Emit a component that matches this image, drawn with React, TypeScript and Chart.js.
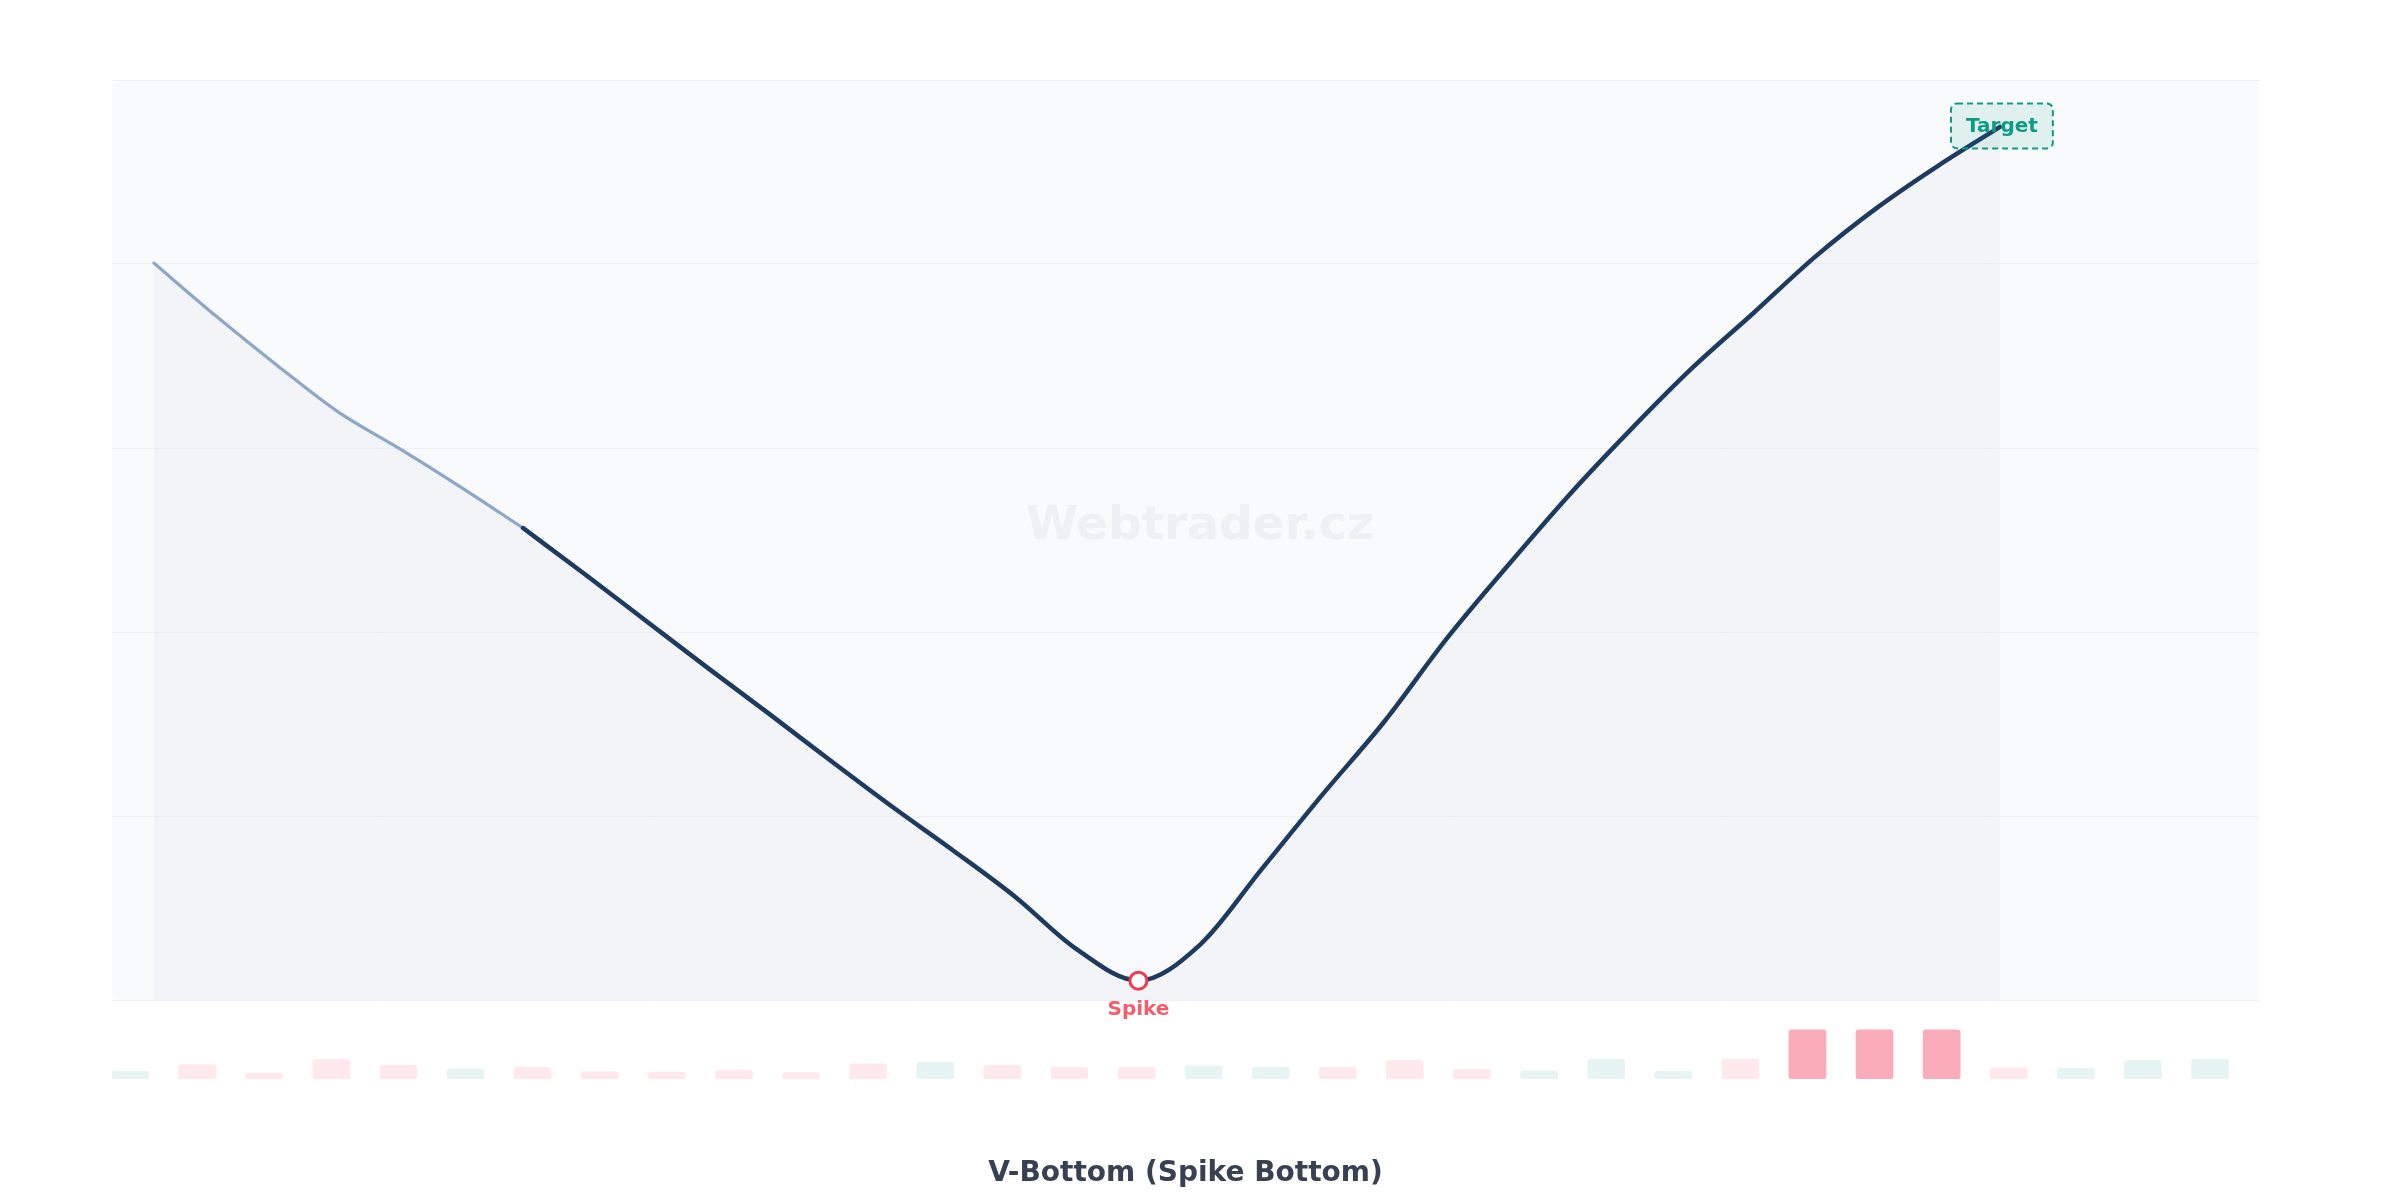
import { useEffect, useRef } from 'react';
import { Chart, registerables } from 'chart.js';

Chart.register(...registerables);

// Price path (index scale 0..100) sampled once per session
const prices = [
  80.1, 74.4, 69.0, 63.9, 59.9, 55.7, 51.3, 46.3, 41.2, 36.1, 31.1,
  26.0, 21.0, 16.2, 11.2, 5.5, 2.1, 6.0, 14.2, 22.4, 30.3, 39.2,
  47.2, 54.9, 62.0, 68.7, 74.7, 80.8, 86.1, 90.7, 94.9,
];
// Session where the prior trend ends and the pattern begins
const patternStart = 6;

// Volume per bar and its direction
const volumes = [
  16, 29, 12, 40, 28, 20, 24, 15, 14, 18, 13, 31, 34, 28, 24, 24,
  27, 24, 24, 38, 20, 17, 40, 16, 41, 100, 100, 100, 23, 22, 38, 40,
];
const volumeDirections = [
  'up', 'down', 'down', 'down', 'down', 'up', 'down', 'down', 'down', 'down', 'down',
  'down', 'up', 'down', 'down', 'down', 'up', 'up', 'down', 'down', 'down', 'up',
  'up', 'up', 'down', 'down', 'down', 'down', 'down', 'up', 'up', 'up',
];
const volumeHighlights = [25, 26, 27];

const titleText = 'V-Bottom (Spike Bottom)';
const spikeLabel = 'Spike';
const targetLabel = 'Target';
const watermarkText = 'Webtrader.cz';

const FONT = '"DejaVu Sans", "Noto Sans", sans-serif';

const spikeIndex = prices.indexOf(Math.min(...prices));

const plotBackground = {
  id: 'plotBackground',
  beforeDraw(chart: any) {
    const { ctx, chartArea } = chart;
    const y = chart.scales.y;
    ctx.save();
    ctx.fillStyle = '#f8fafc';
    ctx.beginPath();
    ctx.roundRect(chartArea.left, y.top, chartArea.right - chartArea.left, y.bottom - y.top, 6);
    ctx.fill();
    ctx.restore();
  },
};

const watermark = {
  id: 'watermark',
  beforeDatasetsDraw(chart: any) {
    const { ctx } = chart;
    const y = chart.scales.y;
    ctx.save();
    ctx.font = `bold 47px ${FONT}`;
    ctx.fillStyle = '#eef0f3';
    ctx.textAlign = 'center';
    ctx.textBaseline = 'middle';
    ctx.fillText(watermarkText, chart.width / 2, y.top + (y.bottom - y.top) * 0.486);
    ctx.restore();
  },
};

const annotations = {
  id: 'annotations',
  afterDatasetsDraw(chart: any) {
    const { ctx } = chart;
    const meta = chart.getDatasetMeta(0);
    const spike = meta.data[spikeIndex - patternStart];
    const last = meta.data[meta.data.length - 1];
    ctx.save();

    // Spike label under the low
    ctx.font = `bold 20px ${FONT}`;
    ctx.textAlign = 'center';
    ctx.textBaseline = 'middle';
    ctx.fillStyle = '#f45d6c';
    ctx.fillText(spikeLabel, spike.x, spike.y + 29);

    // Target tag at the final price
    const tw = ctx.measureText(targetLabel).width;
    const bw = tw + 30;
    const bh = 45;
    const bx = last.x + 2 - bw / 2;
    const by = last.y - 1 - bh / 2;
    ctx.beginPath();
    ctx.roundRect(bx, by, bw, bh, 6);
    ctx.fillStyle = 'rgba(13, 155, 131, 0.1)';
    ctx.fill();
    ctx.setLineDash([6, 4]);
    ctx.lineWidth = 2;
    ctx.strokeStyle = '#0f9b83';
    ctx.stroke();
    ctx.setLineDash([]);
    ctx.fillStyle = '#0f9b83';
    ctx.fillText(targetLabel, bx + bw / 2, by + bh / 2 + 1);
    ctx.restore();
  },
};

export default function App() {
  const canvasRef = useRef<HTMLCanvasElement | null>(null);

  useEffect(() => {
    if (!canvasRef.current) return;
    const pricePoints = prices.map((p, i) => ({ x: i, y: p }));
    const volumePoints = volumes.map((v, i) => ({ x: i, y: v }));
    const volumeColors = volumes.map((_, i) =>
      volumeHighlights.includes(i)
        ? 'rgba(244, 63, 94, 0.43)'
        : volumeDirections[i] === 'up'
          ? 'rgba(13, 148, 136, 0.1)'
          : 'rgba(244, 63, 94, 0.11)'
    );

    const chart = new Chart(canvasRef.current, {
      type: 'line',
      data: {
        datasets: [
          {
            type: 'line',
            label: 'Pattern',
            data: pricePoints.slice(patternStart),
            xAxisID: 'x',
            yAxisID: 'y',
            borderColor: '#1e3a5f',
            borderWidth: 4.5,
            borderCapStyle: 'round',
            borderJoinStyle: 'round',
            cubicInterpolationMode: 'monotone',
            fill: false,
            pointRadius: (c: any) => (c.dataIndex === spikeIndex - patternStart ? 8.5 : 0),
            pointBackgroundColor: '#ffffff',
            pointBorderColor: '#ef3b4f',
            pointBorderWidth: 3,
            order: 1,
          },
          {
            type: 'line',
            label: 'Prior trend',
            data: pricePoints.slice(0, patternStart + 1),
            xAxisID: 'x',
            yAxisID: 'y',
            borderColor: '#8fa7c6',
            borderWidth: 3.2,
            borderCapStyle: 'round',
            borderJoinStyle: 'round',
            cubicInterpolationMode: 'monotone',
            fill: false,
            pointRadius: 0,
            order: 2,
          },
          {
            type: 'line',
            label: 'Area',
            data: pricePoints,
            xAxisID: 'x',
            yAxisID: 'y',
            borderWidth: 0,
            borderColor: 'rgba(0,0,0,0)',
            backgroundColor: 'rgba(30, 41, 59, 0.028)',
            cubicInterpolationMode: 'monotone',
            fill: 'start',
            pointRadius: 0,
            order: 3,
          },
          {
            type: 'bar',
            label: 'Volume',
            data: volumePoints,
            xAxisID: 'xv',
            yAxisID: 'yv',
            backgroundColor: volumeColors,
            borderRadius: 3,
            borderSkipped: false,
            grouped: false,
            barThickness: 37,
            order: 4,
          },
        ] as any,
      },
      options: {
        animation: false,
        responsive: true,
        maintainAspectRatio: false,
        events: [],
        layout: { padding: { left: 104, right: 133, top: 72, bottom: 0 } },
        plugins: {
          legend: { display: false },
          tooltip: { enabled: false },
          title: {
            display: true,
            text: titleText,
            position: 'bottom',
            color: '#374151',
            font: { family: FONT, size: 28, weight: 'bold', lineHeight: 1.2 },
            padding: { top: 78, bottom: 1.4 },
          },
        },
        scales: {
          x: { type: 'linear', display: false, min: -0.68, max: 34.21, offset: false },
          xv: { type: 'linear', display: false, min: -0.27, max: 31.73, offset: false },
          yv: {
            type: 'linear',
            position: 'left',
            stack: 'main',
            stackWeight: 79,
            display: false,
            min: 0,
            max: 161,
          },
          y: {
            type: 'linear',
            position: 'left',
            stack: 'main',
            stackWeight: 920,
            min: 0,
            max: 100,
            ticks: { display: false, stepSize: 20 },
            grid: { color: '#eef1f4', lineWidth: 1, drawTicks: false },
            border: { display: false },
          },
        } as any,
      },
      plugins: [plotBackground, watermark, annotations],
    });

    return () => chart.destroy();
  }, []);

  return (
    <div style={{ width: '100%', height: 1184, position: 'relative' }}>
      <canvas ref={canvasRef} />
    </div>
  );
}
